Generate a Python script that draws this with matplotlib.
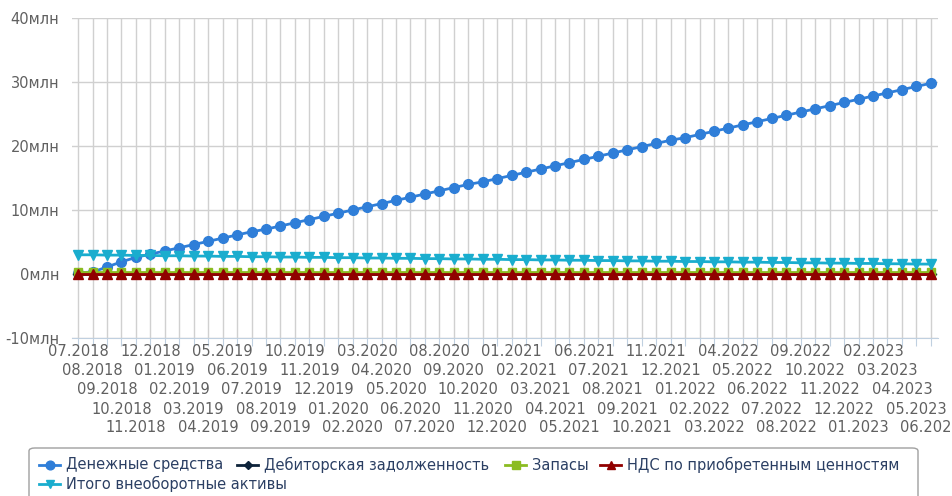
import matplotlib
matplotlib.use("Agg")
import matplotlib.pyplot as plt
from matplotlib.patches import FancyBboxPatch
from matplotlib.lines import Line2D

months = []
for y in range(2018, 2024):
    for m in range(1, 13):
        if (y == 2018 and m < 7) or (y == 2023 and m > 6):
            continue
        months.append(f"{m:02d}.{y}")

cash = [0.2, 0.3, 1.1, 1.9, 2.6, 3.1, 3.6, 4.1, 4.6, 5.1, 5.6, 6.1, 6.6, 7.0, 7.5,
        8.0, 8.5, 9.0, 9.5, 10.0, 10.5, 11.0, 11.5, 12.0, 12.5, 13.0, 13.5, 14.0,
        14.4, 14.9, 15.4, 15.9, 16.4, 16.9, 17.4, 17.9, 18.4, 18.9, 19.4, 19.9,
        20.4, 20.9, 21.3, 21.8, 22.3, 22.8, 23.3, 23.8, 24.3, 24.8, 25.3, 25.8,
        26.3, 26.8, 27.3, 27.8, 28.3, 28.8, 29.3, 29.8]
receivables = [0.0] * 60
inventory = [0.35] * 60
vat = [0.0] * 60
noncurrent = [3.0, 3.0, 2.95, 2.95, 2.9, 2.9, 2.85, 2.85, 2.8, 2.8, 2.75, 2.75,
              2.7, 2.7, 2.65, 2.65, 2.6, 2.6, 2.55, 2.55, 2.5, 2.5, 2.45, 2.45,
              2.4, 2.4, 2.35, 2.35, 2.3, 2.3, 2.25, 2.25, 2.2, 2.2, 2.15, 2.15,
              2.1, 2.1, 2.05, 2.05, 2.0, 2.0, 1.95, 1.95, 1.9, 1.9, 1.85, 1.85,
              1.8, 1.8, 1.75, 1.75, 1.7, 1.7, 1.65, 1.65, 1.6, 1.6, 1.55, 1.55]

y_ticks = [-10, 0, 10, 20, 30, 40]
y_labels = ["-10млн", "0млн", "10млн", "20млн", "30млн", "40млн"]

series = [
    ("Денежные средства", cash, "#2f7ed8", "o", 7),
    ("Дебиторская задолженность", receivables, "#0d233a", "D", 5),
    ("Запасы", inventory, "#8bbc21", "s", 6),
    ("НДС по приобретенным ценностям", vat, "#910000", "^", 7),
    ("Итого внеоборотные активы", noncurrent, "#1aadce", "v", 7),
]

W, H = 952, 496
plt.rcParams['font.family'] = ['DejaVu Sans']
fig = plt.figure(figsize=(W / 100, H / 100), dpi=100)
ax = fig.add_axes([72 / W, 1 - 338 / H, (938 - 72) / W, (338 - 18) / H])

x = list(range(len(months)))
for name, vals, col, mk, ms in series:
    ax.plot(x, vals, color=col, lw=2, marker=mk, ms=ms, zorder=3, clip_on=False)

ax.set_xlim(-0.42, 59.5)
ax.set_ylim(-10, 40)
ax.set_yticks(y_ticks)
ax.set_yticklabels(y_labels)
ax.set_xticks(x)
ax.set_xticklabels([])
ax.grid(True, color="#d0d0d0", lw=1)
ax.set_axisbelow(True)
for s in ["top", "right", "left"]:
    ax.spines[s].set_visible(False)
ax.spines["bottom"].set_color("#c0d0e0")
ax.tick_params(axis="y", length=0, pad=9, labelsize=10.5, labelcolor="#606060")
ax.tick_params(axis="x", length=6, color="#c0d0e0")

# staggered month labels (5 rows)
for i, lab in enumerate(months):
    row = i % 5
    ycen = 352 + row * 19
    fig.text(0, 0, lab, ha="center", va="center", fontsize=10.5, color="#606060")
    t = fig.texts[-1]
    t.set_transform(ax.get_xaxis_transform())
    t.set_position((i, 1 - (ycen - 18) / (338 - 18)))

# legend box
box = FancyBboxPatch((29 / W, -0.05), (918 - 29) / W, (H - 448) / H + 0.05,
                     boxstyle="round,pad=0,rounding_size=0.006",
                     transform=fig.transFigure, fc="white", ec="#a0a0a0", lw=1)
fig.patches.append(box)

leg_pos = [(39, 465), (237, 465), (505, 465), (600, 465), (39, 484)]
for (name, vals, col, mk, ms), (lx, ly) in zip(series, leg_pos):
    fy = 1 - ly / H
    fig.add_artist(Line2D([lx / W, (lx + 21) / W], [fy, fy], color=col, lw=2,
                          transform=fig.transFigure))
    fig.add_artist(Line2D([(lx + 10.5) / W], [fy], color=col, marker=mk,
                          ms=ms * 0.9, transform=fig.transFigure))
    fig.text((lx + 27) / W, fy, name, ha="left", va="center", fontsize=10.5,
             color="#2b3f63")

fig.savefig("out.png", dpi=100)
